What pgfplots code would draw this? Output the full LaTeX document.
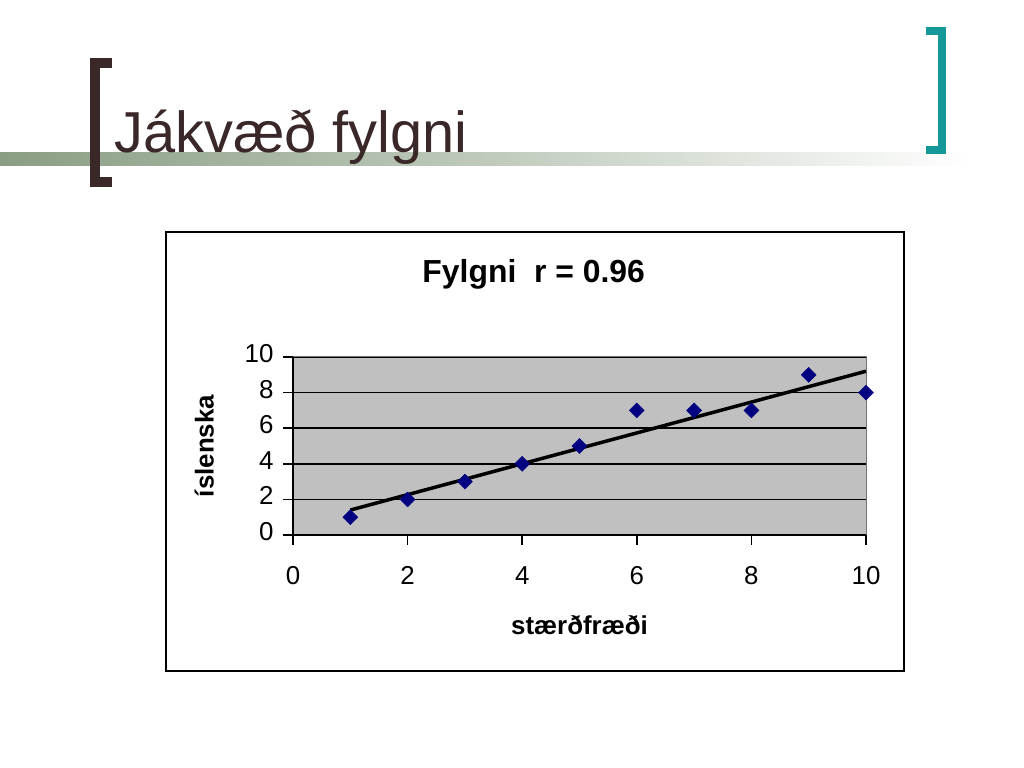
\documentclass[border=0pt]{standalone}
\usepackage{pgfplots}
\pgfplotsset{compat=1.18}
\usepackage{fontspec}
\setmainfont{Liberation Sans}
\definecolor{titlebrown}{RGB}{58,40,40}
\definecolor{teal}{RGB}{20,152,152}
\definecolor{bargreen}{RGB}{138,158,132}
\definecolor{plotgray}{RGB}{192,192,192}
\definecolor{navymark}{RGB}{0,0,128}
\begin{document}
\begin{tikzpicture}[x=1bp,y=1bp]
\path[use as bounding box] (0,0) rectangle (1024,768);
% decorative bar
\shade[left color=bargreen, right color=white, middle color=bargreen!55] (0,602) rectangle (970,615);
% left bracket
\fill[titlebrown] (90,581) rectangle (100,710);
\fill[titlebrown] (90,700) rectangle (112,710);
\fill[titlebrown] (90,581) rectangle (112,591);
% right bracket
\fill[teal] (938,614) rectangle (946,741);
\fill[teal] (926,733) rectangle (946,741);
\fill[teal] (926,614) rectangle (946,622);
% slide title
\node[anchor=base west, inner sep=0pt, text=titlebrown, font=\fontsize{58}{62}\selectfont] at (114,615) {Jákvæð fylgni};
% chart frame
\draw[black, line width=2bp, fill=white] (166,97) rectangle (904,536);
\begin{axis}[
  at={(293bp,233bp)}, anchor=south west,
  scale only axis, width=573bp, height=178bp,
  xmin=0, xmax=10, ymin=0, ymax=10,
  xtick={0,2,4,6,8,10}, ytick={0,2,4,6,8,10},
  axis background/.style={fill=plotgray},
  axis line style={draw=gray!90!black, line width=1bp},
  ymajorgrids, grid style={black, line width=1.6bp},
  tick style={black, line width=1.5bp},
  tick align=outside, major tick length=10bp,
  xtick pos=bottom, ytick pos=left,
  /pgf/number format/assume math mode=true,
  typeset ticklabels with strut,
  ticklabel style={font=\fontsize{26}{28}\selectfont},
  xticklabel style={yshift=-16bp},
  yticklabel style={xshift=-6bp},
  title={\textbf{Fylgni\ \ r = 0.96}},
  title style={font=\fontsize{32}{34}\selectfont, at={(0.42,1)}, yshift=58bp},
  xlabel={\textbf{stærðfræði}},
  ylabel={\textbf{íslenska}},
  label style={font=\fontsize{26}{28}\selectfont},
  xlabel style={yshift=-16bp},
  ylabel style={yshift=24bp},
  clip=false,
]
\draw[black, line width=1.6bp] (axis cs:0,0) -- (axis cs:10,0);
\draw[black, line width=1.6bp] (axis cs:0,0) -- (axis cs:0,10);
\addplot[only marks, mark=square*, mark size=5.3bp, mark options={rotate=45}, color=navymark] coordinates {
(1,1) (2,2) (3,3) (4,4) (5,5) (6,7) (7,7) (8,7) (9,9) (10,8)};
\addplot[black, line width=3.5bp, no marks] coordinates {(1,1.4) (10,9.2)};
\end{axis}
\end{tikzpicture}
\end{document}
